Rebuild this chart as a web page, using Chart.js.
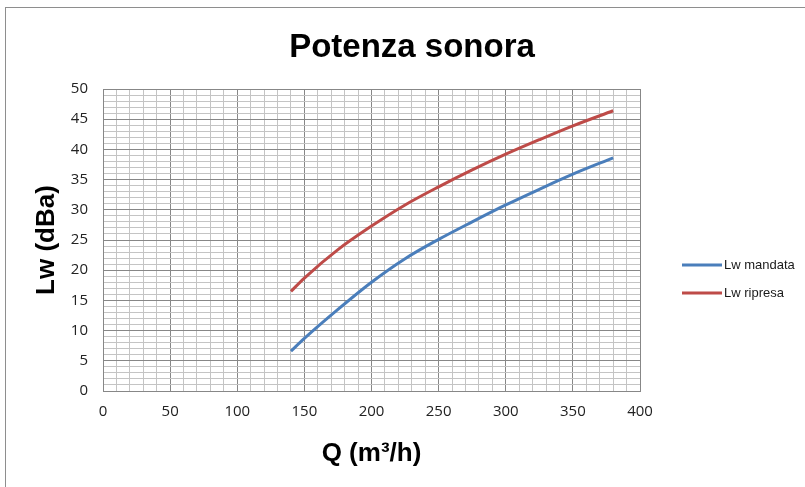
<!DOCTYPE html>
<html>
<head>
<meta charset="utf-8">
<script src="https://cdn.jsdelivr.net/npm/chart.js@4"></script>
<style>
  html, body { margin: 0; padding: 0; background: #fff; }
  #wrap { width: 805px; height: 487px; position: relative; }
</style>
</head>
<body>
<div id="wrap"><canvas id="chart" width="805" height="487"></canvas></div>
<script>
// Portata (m3/h)
const portata = [140, 150, 175, 200, 225, 250, 275, 300, 325, 350, 380];
// Lw mandata (dBa)
const lwMandata = [6.6, 8.7, 13.5, 18.0, 21.9, 25.1, 28.0, 30.8, 33.4, 35.9, 38.6];
// Lw ripresa (dBa)
const lwRipresa = [16.5, 18.7, 23.4, 27.3, 30.8, 33.8, 36.6, 39.2, 41.6, 43.9, 46.4];

const seriesNames = ["Lw mandata", "Lw ripresa"];
const seriesColors = ["#4a7ebb", "#be4b48"];

const chartTitle = "Potenza sonora";
const xTitle = "Q (m³/h)";
const yTitle = "Lw (dBa)";

// frame + title + legend drawn around the plot
const decorPlugin = {
  id: "decor",
  beforeDraw(chart) {
    const ctx = chart.ctx;
    ctx.save();
    ctx.strokeStyle = "#8e8e8e";
    ctx.lineWidth = 1;
    ctx.strokeRect(5.5, 7.5, 1000, 1000);
    ctx.restore();
  },
  afterDraw(chart) {
    const ctx = chart.ctx;
    ctx.save();
    ctx.fillStyle = "#000";
    ctx.font = "bold 33px 'Liberation Sans', Arial, sans-serif";
    ctx.textAlign = "center";
    ctx.textBaseline = "alphabetic";
    ctx.fillText(chartTitle, 412, 57);

    // legend
    ctx.font = "13px 'Liberation Sans', Arial, sans-serif";
    ctx.textAlign = "left";
    ctx.textBaseline = "middle";
    chart.data.datasets.forEach((ds, i) => {
      const y = 265 + i * 28;
      ctx.strokeStyle = ds.borderColor;
      ctx.lineWidth = 3;
      ctx.beginPath();
      ctx.moveTo(682, y);
      ctx.lineTo(722, y);
      ctx.stroke();
      ctx.fillStyle = "#1a1a1a";
      ctx.fillText(ds.label, 724, y);
    });
    ctx.restore();
  },
};

new Chart(document.getElementById("chart"), {
  type: "line",
  data: {
    datasets: [
      {
        label: seriesNames[0],
        data: portata.map((q, i) => ({ x: q, y: lwMandata[i] })),
        borderColor: seriesColors[0],
        borderWidth: 3,
        pointRadius: 0,
        cubicInterpolationMode: "monotone",
      },
      {
        label: seriesNames[1],
        data: portata.map((q, i) => ({ x: q, y: lwRipresa[i] })),
        borderColor: seriesColors[1],
        borderWidth: 3,
        pointRadius: 0,
        cubicInterpolationMode: "monotone",
      },
    ],
  },
  options: {
    responsive: false,
    animation: false,
    layout: { padding: { top: 89, right: 165, left: 0, bottom: 0 } },
    plugins: {
      legend: { display: false },
      tooltip: { enabled: false },
      title: { display: false },
    },
    scales: {
      x: {
        type: "linear",
        min: 0,
        max: 400,
        afterFit: (scale) => { scale.height = 96; },
        ticks: {
          stepSize: 10,
          autoSkip: false,
          maxRotation: 0,
          padding: 12,
          color: "#222",
          font: { family: "'Open Sans', sans-serif", size: 15 },
          callback: (v) => (v % 50 === 0 ? v : ""),
        },
        grid: {
          drawTicks: false,
          color: (c) => (c.tick && c.tick.value % 50 === 0 ? "#878787" : "#c4c4c4"),
        },
        border: { color: "#878787" },
        title: {
          display: true,
          text: xTitle,
          color: "#000",
          font: { family: "'Liberation Sans', Arial, sans-serif", size: 26, weight: "bold" },
          padding: { top: 0, bottom: 18 },
        },
      },
      y: {
        min: 0,
        max: 50,
        afterFit: (scale) => { scale.width = 103; },
        ticks: {
          stepSize: 1,
          autoSkip: false,
          padding: 15,
          color: "#222",
          font: { family: "'Open Sans', sans-serif", size: 15 },
          callback: (v) => (v % 5 === 0 ? v : ""),
        },
        grid: {
          drawTicks: false,
          color: (c) => (c.tick && c.tick.value % 5 === 0 ? "#878787" : "#c4c4c4"),
        },
        border: { color: "#878787" },
        title: {
          display: true,
          text: yTitle,
          color: "#000",
          font: { family: "'Liberation Sans', Arial, sans-serif", size: 26, weight: "bold" },
          padding: { top: 31, bottom: 0 },
        },
      },
    },
  },
  plugins: [decorPlugin],
});
</script>
</body>
</html>
